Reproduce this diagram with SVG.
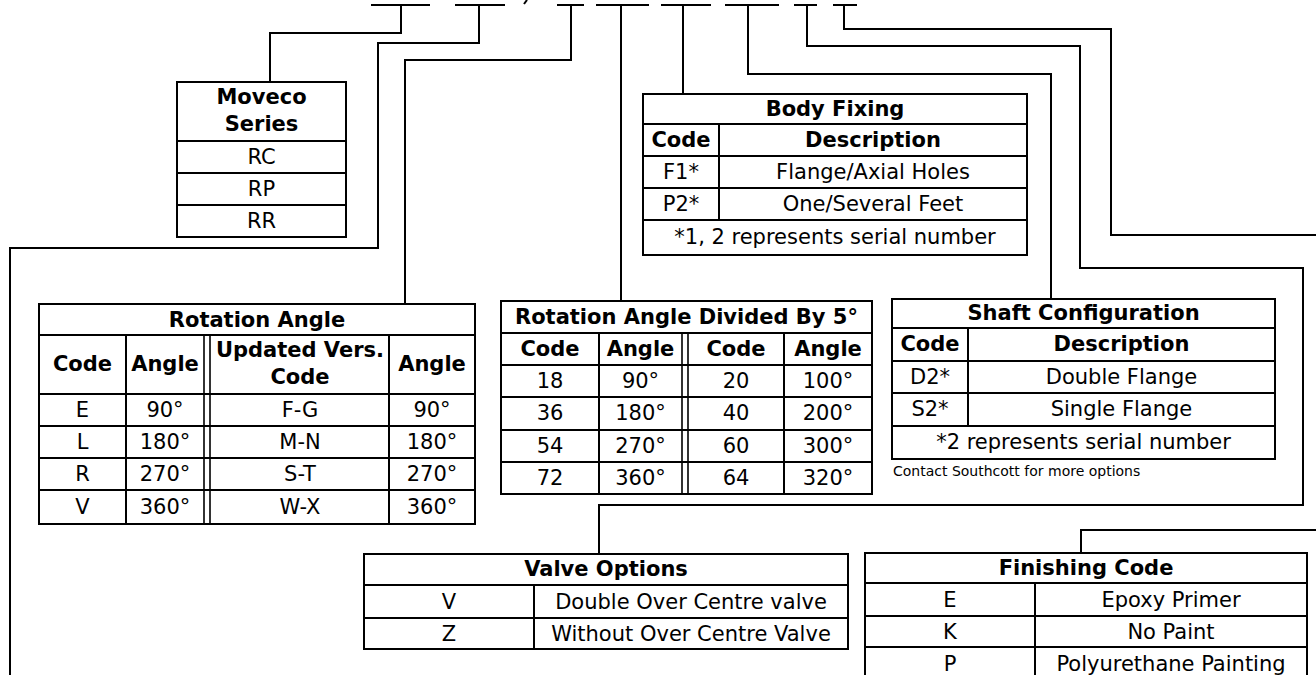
<svg xmlns="http://www.w3.org/2000/svg" width="1316" height="675" viewBox="0 0 1316 675">
<style>
.bg{fill:#fff}
.box{fill:#fff;stroke:#000;stroke-width:2}
.ln{stroke:#000;stroke-width:2;fill:none}
.dl{stroke:#000;stroke-width:1.6;fill:none}
.c{stroke:#000;stroke-width:2;fill:none}
text{font-family:"DejaVu Sans",Verdana,sans-serif;font-size:21px;fill:#000;text-anchor:middle;dominant-baseline:central}
.b{font-weight:bold}
.s{font-size:14px;text-anchor:start}
</style>
<rect class="bg" x="0" y="0" width="1316" height="675"/>

<g id="connectors">
<path class="c" d="M371,5 H430 M401,5 V33 H270 V82"/>
<path class="c" d="M455,5 H505 M479,5 V43 H378 V248 H10 V675"/>
<path class="c" d="M524,4 L527,0" stroke-width="2.5"/>
<path class="c" d="M557,5 H584 M571,5 V60 H405 V304"/>
<path class="c" d="M596,5 H649 M621,5 V301"/>
<path class="c" d="M661,5 H711 M683,5 V94"/>
<path class="c" d="M725,5 H779 M748,5 V74 H1051 V299"/>
<path class="c" d="M794,5 H817 M807,5 V46 H1080 V268 H1303 V505 H599 V554"/>
<path class="c" d="M833,5 H857 M844,5 V29 H1111 V235 H1316"/>
<path class="c" d="M1316,530 H1081 V553"/>
</g>

<g id="moveco-series">
<rect class="box" x="177" y="82" width="169" height="155"/>
<path class="ln" d="M177,141 H346 M177,173 H346 M177,205 H346"/>
<text class="b" x="261.5" y="97">Moveco</text>
<text class="b" x="261.5" y="124">Series</text>
<text x="261.5" y="157">RC</text>
<text x="261.5" y="189">RP</text>
<text x="261.5" y="221">RR</text>
</g>

<g id="body-fixing">
<rect class="box" x="643" y="94" width="384" height="161"/>
<path class="ln" d="M643,124 H1027 M643,156 H1027 M643,188 H1027 M643,220 H1027 M719,124 V220"/>
<text class="b" x="835" y="109">Body Fixing</text>
<text class="b" x="681" y="140">Code</text>
<text class="b" x="873" y="140">Description</text>
<text x="681" y="172">F1*</text>
<text x="873" y="172">Flange/Axial Holes</text>
<text x="681" y="204">P2*</text>
<text x="873" y="204">One/Several Feet</text>
<text x="835" y="237">*1, 2 represents serial number</text>
</g>

<g id="rotation-angle">
<rect class="box" x="39" y="304" width="436" height="220"/>
<path class="ln" d="M39,335 H475 M39,394 H475 M39,426 H475 M39,458 H475 M39,490 H475 M126,335 V524 M389,335 V524"/>
<path class="dl" d="M204,335 V524 M210,335 V524"/>
<text class="b" x="257" y="320">Rotation Angle</text>
<text class="b" x="82.5" y="364">Code</text>
<text class="b" x="165" y="364">Angle</text>
<text class="b" x="300" y="350">Updated Vers.</text>
<text class="b" x="300" y="377">Code</text>
<text class="b" x="432" y="364">Angle</text>
<text x="82.5" y="410">E</text><text x="165" y="410">90°</text><text x="300" y="410">F-G</text><text x="432" y="410">90°</text>
<text x="82.5" y="442">L</text><text x="165" y="442">180°</text><text x="300" y="442">M-N</text><text x="432" y="442">180°</text>
<text x="82.5" y="474">R</text><text x="165" y="474">270°</text><text x="300" y="474">S-T</text><text x="432" y="474">270°</text>
<text x="82.5" y="507">V</text><text x="165" y="507">360°</text><text x="300" y="507">W-X</text><text x="432" y="507">360°</text>
</g>

<g id="rotation-angle-divided">
<rect class="box" x="501" y="301" width="371" height="193"/>
<path class="ln" d="M501,333 H872 M501,365 H872 M501,397 H872 M501,430 H872 M501,462 H872 M599,333 V494 M784,333 V494"/>
<path class="dl" d="M682,333 V494 M688,333 V494"/>
<text class="b" x="686.5" y="317">Rotation Angle Divided By 5°</text>
<text class="b" x="550" y="349">Code</text><text class="b" x="640.5" y="349">Angle</text><text class="b" x="736" y="349">Code</text><text class="b" x="828" y="349">Angle</text>
<text x="550" y="381">18</text><text x="640.5" y="381">90°</text><text x="736" y="381">20</text><text x="828" y="381">100°</text>
<text x="550" y="413">36</text><text x="640.5" y="413">180°</text><text x="736" y="413">40</text><text x="828" y="413">200°</text>
<text x="550" y="446">54</text><text x="640.5" y="446">270°</text><text x="736" y="446">60</text><text x="828" y="446">300°</text>
<text x="550" y="478">72</text><text x="640.5" y="478">360°</text><text x="736" y="478">64</text><text x="828" y="478">320°</text>
</g>

<g id="shaft-configuration">
<rect class="box" x="892" y="299" width="383" height="160"/>
<path class="ln" d="M892,328 H1275 M892,361 H1275 M892,393 H1275 M892,426 H1275 M968,328 V426"/>
<text class="b" x="1083.5" y="313">Shaft Configuration</text>
<text class="b" x="930" y="344">Code</text>
<text class="b" x="1121.5" y="344">Description</text>
<text x="930" y="377">D2*</text>
<text x="1121.5" y="377">Double Flange</text>
<text x="930" y="409">S2*</text>
<text x="1121.5" y="409">Single Flange</text>
<text x="1083.5" y="442">*2 represents serial number</text>
<text class="s" x="893" y="471">Contact Southcott for more options</text>
</g>

<g id="valve-options">
<rect class="box" x="364" y="554" width="484" height="95"/>
<path class="ln" d="M364,585 H848 M364,618 H848 M534,585 V649"/>
<text class="b" x="606" y="569">Valve Options</text>
<text x="449" y="602">V</text>
<text x="691" y="602">Double Over Centre valve</text>
<text x="449" y="634">Z</text>
<text x="691" y="634">Without Over Centre Valve</text>
</g>

<g id="finishing-code">
<rect class="box" x="865" y="553" width="442" height="140"/>
<path class="ln" d="M865,583 H1307 M865,616 H1307 M865,647 H1307 M1035,583 V680"/>
<text class="b" x="1086" y="568">Finishing Code</text>
<text x="950" y="600">E</text>
<text x="1171" y="600">Epoxy Primer</text>
<text x="950" y="632">K</text>
<text x="1171" y="632">No Paint</text>
<text x="950" y="664">P</text>
<text x="1171" y="664">Polyurethane Painting</text>
</g>
</svg>
